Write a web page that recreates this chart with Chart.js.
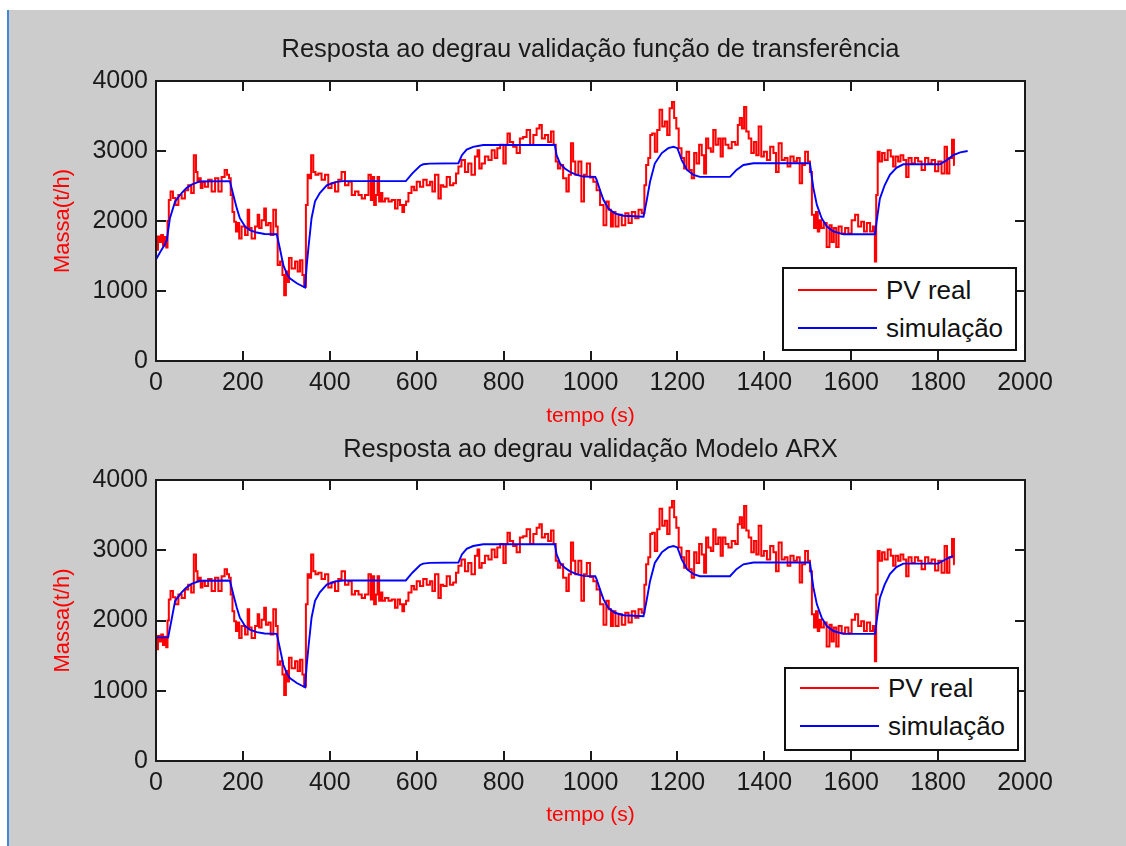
<!DOCTYPE html>
<html>
<head>
<meta charset="utf-8">
<script src="https://cdn.jsdelivr.net/npm/chart.js@4.4.1/dist/chart.umd.min.js"></script>
<style>
html,body{margin:0;padding:0;background:#fff;}
body{width:1126px;height:846px;position:relative;overflow:hidden;font-family:"Liberation Sans",Arial,sans-serif;}
#fig{position:absolute;left:7px;top:10px;width:1119px;height:836px;background:#cccccc;border-left:2px solid #4089d6;box-sizing:border-box;}
.wrap{position:absolute;left:0;}
.legend{position:absolute;background:#fff;border:2px solid #111;box-sizing:border-box;width:235px;height:84px;}
.legend .row{position:absolute;left:0;height:0;width:100%;}
.legend .sample{position:absolute;left:14px;width:79px;height:2px;top:-1px;}
.legend .lbl{position:absolute;left:102px;font-size:26px;line-height:30px;color:#111;white-space:nowrap;top:-15px;}
</style>
</head>
<body>
<div id="fig"></div>
<div class="wrap" style="top:0;width:1126px;height:440px;"><canvas id="c1" width="1126" height="440"></canvas></div>
<div class="wrap" style="top:420px;width:1126px;height:426px;"><canvas id="c2" width="1126" height="426"></canvas></div>
<div class="legend" id="leg1" style="left:782px;top:267px;"></div>
<div class="legend" id="leg2" style="left:784px;top:667px;"></div>
<script>
// ---- data ----
const tempoPV = [0,3,6,10,14,18,22,25,28,31,36,42,48,55,63,70,78,84,90,94,97,101,105,109,116,124,132,140,147,155,161,166,170,174,178,182,186,190,193,201,209,213,216,224,232,236,239,247,251,255,262,266,274,278,282,289,293,297,301,304,308,316,324,328,335,339,343,347,351,354,360,364,370,377,385,393,400,408,416,423,431,439,447,454,462,470,477,485,493,496,500,504,508,512,515,519,523,531,539,546,554,558,565,569,573,578,584,592,596,604,611,619,627,634,638,646,654,657,665,673,680,688,693,699,707,715,722,730,738,742,746,753,761,769,776,783,788,796,803,807,811,818,826,834,841,849,857,865,872,880,885,891,899,906,912,918,922,928,933,941,948,952,958,962,968,976,982,988,995,1003,1010,1018,1026,1034,1039,1045,1049,1054,1061,1068,1076,1084,1091,1099,1107,1114,1122,1126,1130,1136,1139,1145,1151,1156,1162,1168,1174,1179,1185,1190,1195,1200,1206,1213,1218,1224,1230,1236,1241,1247,1253,1259,1264,1268,1274,1280,1285,1291,1297,1302,1307,1314,1321,1329,1337,1341,1346,1351,1356,1361,1367,1373,1379,1384,1390,1396,1402,1410,1417,1425,1429,1437,1443,1451,1456,1464,1471,1479,1484,1490,1498,1503,1507,1512,1517,1521,1525,1528,1534,1540,1547,1553,1557,1563,1568,1574,1582,1590,1597,1605,1613,1619,1627,1632,1640,1647,1653,1656,1659,1663,1668,1674,1680,1688,1694,1699,1705,1711,1716,1724,1729,1735,1743,1750,1758,1766,1774,1781,1789,1797,1804,1812,1818,1823,1829,1835,1838];
const pvReal = [1750,1590,1780,1700,1800,1650,1770,1620,2000,2300,2420,2330,2230,2370,2320,2440,2510,2400,2940,2700,2560,2610,2470,2560,2490,2590,2420,2610,2420,2630,2730,2660,2610,2370,2130,1990,1850,1970,1750,1920,1800,2160,1900,1750,1920,2090,1900,2010,2180,1940,1970,1800,2160,1920,1370,1420,1230,940,1280,1130,1470,1320,1420,1280,1440,1230,1060,2230,2660,2610,2940,2700,2660,2680,2590,2660,2470,2540,2420,2590,2700,2510,2560,2370,2420,2370,2320,2370,2660,2300,2630,2230,2370,2630,2280,2400,2280,2320,2280,2300,2180,2300,2230,2130,2230,2280,2400,2490,2440,2560,2490,2590,2510,2560,2420,2660,2320,2510,2490,2630,2510,2540,2680,2780,2870,2700,2820,2660,2920,3010,2750,2820,2920,2870,3010,2900,3040,3090,2820,3090,3250,3130,3060,2970,3180,3200,3300,3090,3230,3320,3370,3180,3230,3130,3280,3090,2850,2750,2800,2610,2420,2660,3110,2850,2660,2850,2280,2660,2820,2620,2560,2440,2230,1940,2280,2160,1920,2130,1920,2090,1940,2110,1970,2130,2040,2160,2110,2510,2800,2900,3230,3250,2990,3300,3590,3350,3420,3230,3610,3700,3470,3320,3040,2900,2750,2990,2730,2610,2970,2820,3090,2940,2680,3180,3040,2990,3300,3090,3180,2920,3180,3090,3040,3130,3090,3370,3470,3320,3630,3280,3180,2970,3130,2940,3350,2920,2990,2870,3060,2970,2700,3110,2870,2900,2780,2920,2850,2900,2540,2800,2990,2850,2700,2090,1900,2130,1850,2010,1900,1970,1630,1940,1700,1900,1630,1920,1820,1900,1820,2010,2090,1920,1990,1850,1970,1850,1920,1420,2370,2990,2850,2970,2870,3010,2920,2780,2920,2850,2940,2870,2630,2900,2820,2900,2850,2730,2900,2820,2870,2710,2850,2680,3060,2680,2900,3160,2800];

const tempoSim1 = [0,10,20,25,32,44,59,70,82,101,170,178,186,193,205,216,232,250,278,285,293,301,308,324,343,347,351,358,366,377,393,412,430,575,590,608,615,630,696,704,715,730,753,918,922,930,941,953,968,984,1011,1014,1022,1030,1041,1056,1076,1122,1129,1137,1148,1164,1179,1191,1200,1210,1222,1237,1252,1321,1336,1352,1375,1505,1513,1521,1532,1544,1559,1582,1655,1658,1666,1677,1689,1704,1720,1804,1820,1835,1851,1868];
const sim1 = [1450,1560,1660,1730,2040,2280,2400,2470,2520,2565,2570,2370,2180,2040,1920,1870,1835,1815,1810,1610,1370,1250,1180,1110,1050,1370,1630,2040,2280,2400,2510,2555,2570,2570,2680,2790,2810,2820,2825,2940,3020,3060,3085,3085,2940,2820,2750,2700,2660,2635,2630,2590,2440,2300,2180,2110,2075,2060,2280,2560,2820,2970,3040,3060,3040,2870,2730,2660,2630,2630,2730,2800,2825,2825,2470,2230,2040,1920,1850,1810,1810,1970,2320,2510,2660,2760,2810,2810,2870,2940,2980,3000];

const tempoSim2 = [0,28,37,44,59,70,82,101,170,178,186,193,205,216,232,250,278,285,293,301,308,324,343,347,351,358,366,377,393,412,430,575,590,608,615,630,696,704,715,730,753,918,922,930,941,953,968,984,1011,1014,1022,1030,1041,1056,1076,1122,1129,1137,1148,1164,1179,1191,1200,1210,1222,1237,1252,1321,1336,1352,1375,1505,1513,1521,1532,1544,1559,1582,1655,1658,1666,1677,1689,1704,1720,1800,1812,1824,1835];
const sim2 = [1760,1760,2050,2280,2400,2470,2520,2565,2570,2370,2180,2040,1920,1870,1835,1815,1810,1610,1370,1250,1180,1110,1050,1370,1630,2040,2280,2400,2510,2555,2570,2570,2680,2790,2810,2820,2825,2940,3020,3060,3085,3085,2940,2820,2750,2700,2660,2635,2630,2590,2440,2300,2180,2110,2075,2060,2280,2560,2820,2970,3040,3060,3040,2870,2730,2660,2630,2630,2730,2800,2825,2825,2470,2230,2040,1920,1850,1810,1810,1970,2320,2510,2660,2760,2810,2810,2850,2890,2920];

const xTickValues = [0,200,400,600,800,1000,1200,1400,1600,1800,2000];
const xTickLabels = ['0','200','400','600','800','1000','1200','1400','1600','1800','2000'];
const yTickValues = [0,1000,2000,3000,4000];
const yTickLabels = ['0','1000','2000','3000','4000'];
const chartTitles = ['Resposta ao degrau validação função de transferência','Resposta ao degrau validação Modelo ARX'];
const seriesLabels = ['PV real','simulação'];
const xAxisLabel = 'tempo (s)';
const yAxisLabel = 'Massa(t/h)';

// ---- rendering ----
const FONT = '"Liberation Sans", Arial, sans-serif';
Chart.defaults.font.family = FONT;
const colors = {pv:'#ff0000', sim:'#0000ff', text:'#1a1a1a', label:'#ff0000'};

const framePlugin = {
  id:'matlabFrame',
  beforeDatasetsDraw(chart){
    const a = chart.chartArea, c = chart.ctx;
    c.save(); c.fillStyle = '#ffffff';
    c.fillRect(a.left, a.top, a.right - a.left, a.bottom - a.top);
    c.restore();
  },
  afterDatasetsDraw(chart){
    const c = chart.ctx, a = chart.chartArea, x = chart.scales.x, y = chart.scales.y;
    c.save();
    c.strokeStyle = '#1a1a1a'; c.lineWidth = 2;
    c.strokeRect(a.left, a.top, a.right - a.left, a.bottom - a.top);
    c.beginPath();
    x.ticks.forEach(t => {
      const px = Math.round(x.getPixelForValue(t.value));
      c.moveTo(px, a.bottom); c.lineTo(px, a.bottom - 10);
      c.moveTo(px, a.top); c.lineTo(px, a.top + 10);
    });
    y.ticks.forEach(t => {
      const py = Math.round(y.getPixelForValue(t.value));
      c.moveTo(a.left, py); c.lineTo(a.left + 10, py);
      c.moveTo(a.right, py); c.lineTo(a.right - 10, py);
    });
    c.stroke();
    c.restore();
  }
};

function build(id, title, simT, simV, g){
  return new Chart(document.getElementById(id), {
    type:'line',
    data:{datasets:[
      {label:seriesLabels[0], data:tempoPV.map((t,i)=>({x:t,y:pvReal[i]})), borderColor:colors.pv, backgroundColor:colors.pv, borderWidth:2, pointRadius:0, stepped:'middle', fill:false, order:1},
      {label:seriesLabels[1], data:simT.map((t,i)=>({x:t,y:simV[i]})), borderColor:colors.sim, backgroundColor:colors.sim, borderWidth:1.9, pointRadius:0, tension:0, fill:false, order:0}
    ]},
    options:{
      responsive:false, animation:false, devicePixelRatio:1,
      layout:{padding:{left:0, right:101, top:0, bottom:0}},
      plugins:{
        legend:{display:false}, tooltip:{enabled:false},
        title:{display:true, fullSize:false, text:title, color:colors.text,
          font:{family:FONT, size:25.5, weight:'normal'}, padding:{top:g.tTop, bottom:g.tBottom}}
      },
      scales:{
        x:{type:'linear', min:0, max:2000,
          afterBuildTicks(s){ s.ticks = xTickValues.map(v=>({value:v})); },
          ticks:{padding:7, color:colors.text, font:{family:FONT,size:25}, maxRotation:0, minRotation:0, autoSkip:false,
            callback:(v)=>xTickLabels[xTickValues.indexOf(v)]},
          grid:{display:false, drawTicks:false}, border:{display:false},
          title:{display:true, text:xAxisLabel, color:colors.label, font:{family:FONT,size:21}, padding:{top:0,bottom:g.xtBottom}},
          afterFit(s){ s.height = g.xh; }
        },
        y:{type:'linear', min:0, max:4000,
          afterBuildTicks(s){ s.ticks = yTickValues.map(v=>({value:v})); },
          ticks:{padding:8, color:colors.text, font:{family:FONT,size:25},
            callback:(v)=>yTickLabels[yTickValues.indexOf(v)]},
          grid:{display:false, drawTicks:false}, border:{display:false},
          title:{display:true, text:yAxisLabel, color:colors.label, font:{family:FONT,size:22}, padding:{top:49.8,bottom:0}},
          afterFit(s){ s.width = 156; }
        }
      }
    },
    plugins:[framePlugin]
  });
}

function legendFor(chart, elId, rows){
  const el = document.getElementById(elId);
  chart.data.datasets.forEach((ds, i) => {
    const row = document.createElement('div');
    row.className = 'row'; row.style.top = rows[i] + 'px';
    const s = document.createElement('div'); s.className = 'sample'; s.style.background = ds.borderColor;
    const l = document.createElement('div'); l.className = 'lbl'; l.textContent = ds.label;
    row.appendChild(s); row.appendChild(l); el.appendChild(row);
  });
}

const ch1 = build('c1', chartTitles[0], tempoSim1, sim1, {tTop:34.7, tBottom:15.7, xh:79, xtBottom:11.4});
const ch2 = build('c2', chartTitles[1], tempoSim2, sim2, {tTop:14.7, tBottom:14.7, xh:85, xtBottom:17.7});
legendFor(ch1, 'leg1', [21, 59]);
legendFor(ch2, 'leg2', [19, 57]);
</script>
</body>
</html>
